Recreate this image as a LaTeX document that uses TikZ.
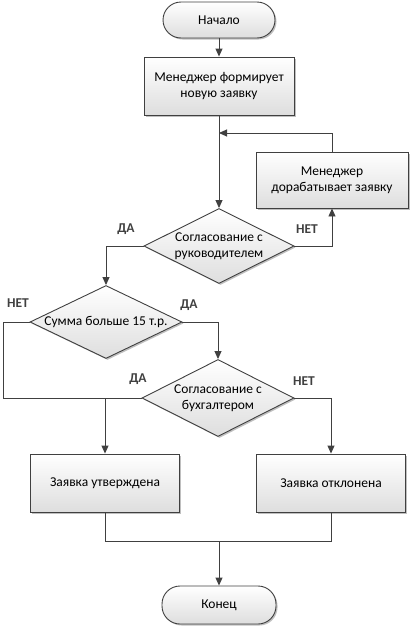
\documentclass[tikz,border=0pt]{standalone}
\usepackage{fontspec}
\setmainfont{Carlito}
\usetikzlibrary{shapes.geometric,arrows.meta,shadows}
\definecolor{ln}{HTML}{404040}
\begin{document}
\begin{tikzpicture}[x=1pt,y=-1pt,
  base/.style={draw=ln, line width=0.9pt, top color=white, bottom color=black!13, font=\fontsize{13.5}{16}\selectfont, align=center, inner sep=0pt, drop shadow={shadow xshift=1.5pt,shadow yshift=-1.5pt,opacity=0.25,fill=black}},
  term/.style={base, rectangle, rounded corners=18pt, minimum width=112pt, minimum height=36pt},
  proc/.style={base, rectangle, minimum width=150pt, minimum height=58pt},
  dec/.style={base, diamond, aspect=2, minimum width=150pt, minimum height=75pt},
  conn/.style={draw=ln, line width=0.9pt},
  arr/.style={conn, -{Triangle[length=8pt,width=7pt]}},
  lbl/.style={font=\bfseries\fontsize{13.5}{16}\selectfont, text=ln}
]
\useasboundingbox (0,0) rectangle (410,627);
\node[term] (start) at (219,20) {Начало};
\node[proc] (p1) at (219,86) {Менеджер формирует\\новую заявку};
\node[dec] (d1) at (219,246) {Согласование с\\руководителем};
\node[proc, minimum width=152pt, minimum height=56pt] (p2) at (332,180) {Менеджер\\дорабатывает заявку};
\node[dec, minimum width=152pt, minimum height=73pt] (d2) at (106,322) {Сумма больше 15 т.р.};
\node[dec, minimum width=152pt, minimum height=77pt] (d3) at (218,398) {Согласование с\\бухгалтером};
\node[proc, minimum width=149pt] (p3) at (105,483) {Заявка утверждена};
\node[proc, minimum width=149pt] (p4) at (331,483) {Заявка отклонена};
\node[term, minimum width=114pt, minimum height=38pt] (end) at (219,605) {Конец};

\coordinate (loop) at (219,133);
\coordinate (lft) at (3,322);
\coordinate (m) at (219,541);

\draw[arr] (start) -- (p1);
\draw[arr] (p1.south) -- (d1.north);
\draw[arr] (d1.east) -| (p2.south);
\draw[arr] (p2.north) |- (loop);
\draw[arr] (d1.west) -| (d2.north);
\draw[arr] (d2.east) -| (d3.north);
\draw[conn] (d2.west) -- (lft) |- (d3.west);
\draw[arr] (d3.west) -| (p3.north);
\draw[arr] (d3.east) -| (p4.north);
\draw[conn] (p3.south) |- (m);
\draw[conn] (p4.south) |- (m);
\draw[arr] (m) -- (end.north);

\node[lbl] (l1) at (126,229) {ДА};
\node[lbl] (l2) at (307,229) {НЕТ};
\node[lbl] (l3) at (18,303) {НЕТ};
\node[lbl] (l4) at (189,305) {ДА};
\node[lbl] (l5) at (138,379) {ДА};
\node[lbl] (l6) at (304,381) {НЕТ};
\end{tikzpicture}
\end{document}
